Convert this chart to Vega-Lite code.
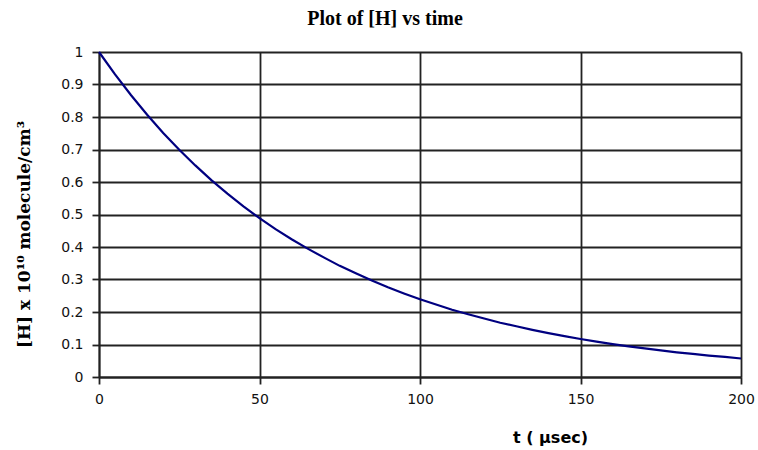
{
  "$schema": "https://vega.github.io/schema/vega-lite/v6.json",
  "width": 642,
  "height": 325,
  "autosize": "none",
  "padding": {"left": 99, "top": 52, "right": 17, "bottom": 73},
  "background": "white",
  "title": {
    "text": "Plot of [H] vs time",
    "font": "Liberation Serif",
    "fontSize": 20,
    "fontWeight": "bold",
    "color": "#000",
    "anchor": "middle",
    "dx": -35,
    "offset": 16
  },
  "config": {
    "view": {"stroke": null},
    "axis": {
      "labelFont": "DejaVu Sans",
      "labelFontSize": 14,
      "labelColor": "#111",
      "labelFlush": false,
      "gridColor": "#222",
      "gridWidth": 1.8,
      "gridOpacity": 1,
      "domainColor": "#222",
      "domainWidth": 1.8,
      "tickColor": "#222",
      "tickWidth": 1.8,
      "tickSize": 7,
      "titleFontWeight": "bold",
      "titleColor": "#000"
    }
  },
  "data": {
    "values": [
      {"t": 0, "H": 1.0},
      {"t": 5, "H": 0.931},
      {"t": 10, "H": 0.867},
      {"t": 15, "H": 0.807},
      {"t": 20, "H": 0.751},
      {"t": 25, "H": 0.699},
      {"t": 30, "H": 0.651},
      {"t": 35, "H": 0.606},
      {"t": 40, "H": 0.564},
      {"t": 45, "H": 0.525},
      {"t": 50, "H": 0.489},
      {"t": 55, "H": 0.455},
      {"t": 60, "H": 0.424},
      {"t": 65, "H": 0.395},
      {"t": 70, "H": 0.368},
      {"t": 75, "H": 0.342},
      {"t": 80, "H": 0.319},
      {"t": 85, "H": 0.297},
      {"t": 90, "H": 0.276},
      {"t": 95, "H": 0.257},
      {"t": 100, "H": 0.239},
      {"t": 105, "H": 0.223},
      {"t": 110, "H": 0.207},
      {"t": 115, "H": 0.193},
      {"t": 120, "H": 0.18},
      {"t": 125, "H": 0.167},
      {"t": 130, "H": 0.156},
      {"t": 135, "H": 0.145},
      {"t": 140, "H": 0.135},
      {"t": 145, "H": 0.126},
      {"t": 150, "H": 0.117},
      {"t": 155, "H": 0.109},
      {"t": 160, "H": 0.101},
      {"t": 165, "H": 0.094},
      {"t": 170, "H": 0.088},
      {"t": 175, "H": 0.082},
      {"t": 180, "H": 0.076},
      {"t": 185, "H": 0.071},
      {"t": 190, "H": 0.066},
      {"t": 195, "H": 0.062},
      {"t": 200, "H": 0.057}
    ]
  },
  "mark": {"type": "line", "color": "#000080", "strokeWidth": 2.2},
  "encoding": {
    "x": {
      "field": "t",
      "type": "quantitative",
      "scale": {"domain": [0, 200], "nice": false},
      "axis": {
        "values": [0, 50, 100, 150, 200],
        "labelPadding": 8,
        "title": "t ( µsec)",
        "titleFont": "DejaVu Sans",
        "titleFontSize": 16,
        "titleX": 451,
        "titleY": 60,
        "titleAlign": "center",
        "titleBaseline": "middle"
      }
    },
    "y": {
      "field": "H",
      "type": "quantitative",
      "scale": {"domain": [0, 1], "nice": false},
      "axis": {
        "values": [0, 0.1, 0.2, 0.3, 0.4, 0.5, 0.6, 0.7, 0.8, 0.9, 1],
        "format": "~g",
        "labelPadding": 9,
        "title": "[H] x 10¹⁰ molecule/cm³",
        "titleFont": "DejaVu Serif",
        "titleFontSize": 17,
        "titleAngle": -90,
        "titleX": -75,
        "titleY": 182,
        "titleAlign": "center",
        "titleBaseline": "middle"
      }
    }
  }
}
